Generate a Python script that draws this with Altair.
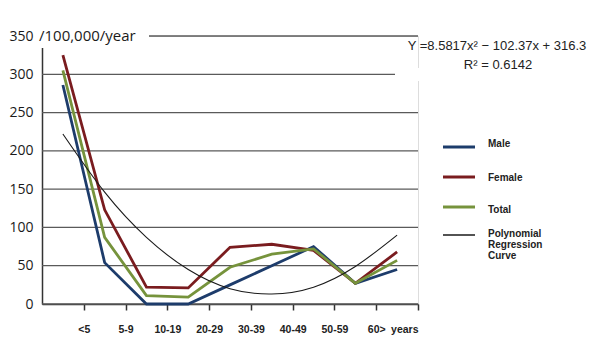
import altair as alt
import pandas as pd

# ---- data ----
categories = ["<5", "5-9", "10-19", "20-29", "30-39", "40-49", "50-59", "60>", "years"]
male = [286, 54, 0, 0, 25, 50, 75, 27, 45]
female = [325, 123, 22, 21, 74, 78, 70, 27, 68]
total = [305, 87, 11, 9, 48, 65, 72, 27, 57]
poly_curve = [222, 146, 87, 45, 20, 13, 22, 49, 90]
y_ticks = [0, 50, 100, 150, 200, 250, 300, 350]
series_names = ["Male", "Female", "Total"]
series_colors = ["#1d3c6b", "#7a1c1f", "#76933c"]
legend_labels = ["Male", "Female", "Total", "Polynomial\nRegression\nCurve"]
equation = "Y =8.5817x\u00b2 \u2212 102.37x + 316.3"
r_squared = "R\u00b2 = 0.6142"
unit_title = "/100,000/year"

# ---- build tables ----
rows = []
for name, vals in zip(series_names, [male, female, total]):
    for i, v in enumerate(vals):
        rows.append({"pos": i + 0.5, "series": name, "value": v})
df = pd.DataFrame(rows)
poly_df = pd.DataFrame({"pos": [i + 0.5 for i in range(len(poly_curve))], "value": poly_curve})
grid_df = pd.DataFrame({"value": y_ticks})

W, H = 376, 268
label_expr = "[" + ",".join("'" + c + "'" for c in categories) + "][datum.value - 1]"

xscale = alt.Scale(domain=[0, 9], nice=False, zero=False)
yscale = alt.Scale(domain=[0, 350], nice=False)

x_axis = alt.Axis(
    values=list(range(1, 10)), labelExpr=label_expr, title=None, grid=False,
    tickSize=6, tickColor="#333", tickWidth=1.5, domainColor="#333", domainWidth=1.5,
    labelFont="Liberation Sans", labelFontSize=10.5, labelFontWeight="bold",
    labelColor="#222", labelPadding=14, labelAngle=0, labelOverlap=False,
)
y_axis = alt.Axis(
    values=y_ticks, tickCount=8, title=None, ticks=False, grid=False,
    domainColor="#333", domainWidth=1.5,
    labelFont="Open Sans", labelFontSize=14, labelColor="#1a1a1a", labelPadding=9,
    labelOverlap=False, labelFlush=False,
)

# horizontal gridlines drawn as rules
grid = alt.Chart(grid_df).mark_rule(color="#5a5a5a", strokeWidth=1.3).encode(
    y=alt.Y("value:Q", scale=yscale, axis=y_axis),
    x=alt.value(0), x2=alt.value(W),
)

lines = alt.Chart(df).mark_line(strokeWidth=2.8).encode(
    x=alt.X("pos:Q", scale=xscale, axis=x_axis),
    y=alt.Y("value:Q", scale=yscale, axis=y_axis),
    color=alt.Color("series:N", scale=alt.Scale(domain=series_names, range=series_colors), legend=None),
    detail="series:N",
)

poly = alt.Chart(poly_df).mark_line(color="#1a1a1a", strokeWidth=1.1, interpolate="natural").encode(
    x=alt.X("pos:Q", scale=xscale, axis=x_axis),
    y=alt.Y("value:Q", scale=yscale, axis=y_axis),
)

layers = [grid, lines, poly]

# white box behind the unit title (covers top gridline / axis)
layers.append(alt.Chart(pd.DataFrame({"a": [0]})).mark_rect(color="white").encode(
    x=alt.value(-5), x2=alt.value(107), y=alt.value(-16), y2=alt.value(12)))
layers.append(alt.Chart(pd.DataFrame({"t": [unit_title]})).mark_text(
    font="Open Sans", fontSize=15, color="#1a1a1a", align="left", baseline="middle").encode(
    x=alt.value(-3), y=alt.value(0), text="t:N"))

# white box behind equation text
layers.append(alt.Chart(pd.DataFrame({"a": [0]})).mark_rect(color="white").encode(
    x=alt.value(353), x2=alt.value(380), y=alt.value(32), y2=alt.value(45)))
layers.append(alt.Chart(pd.DataFrame({"t": [equation]})).mark_text(
    font="Liberation Sans", fontSize=13, color="#222", align="center", baseline="middle").encode(
    x=alt.value(455), y=alt.value(10), text="t:N"))
layers.append(alt.Chart(pd.DataFrame({"t": [r_squared]})).mark_text(
    font="Liberation Sans", fontSize=13, color="#222", align="center", baseline="middle").encode(
    x=alt.value(456), y=alt.value(29), text="t:N"))

# custom legend
legend_colors = series_colors + ["#1a1a1a"]
legend_widths = [3, 3, 3, 1.5]
swatch_y = [111, 141, 171, 199]
text_y = [108, 142, 174, 198]
for lab, col, sw, sy, ty in zip(legend_labels, legend_colors, legend_widths, swatch_y, text_y):
    layers.append(alt.Chart(pd.DataFrame({"a": [0]})).mark_rule(color=col, strokeWidth=sw).encode(
        x=alt.value(401), x2=alt.value(433), y=alt.value(sy)))
    layers.append(alt.Chart(pd.DataFrame({"t": [lab]})).mark_text(
        font="Liberation Sans", fontSize=10, fontWeight="bold", color="#222",
        align="left", baseline="middle", lineBreak="\n", lineHeight=11).encode(
        x=alt.value(446), y=alt.value(ty), text="t:N"))

chart = alt.layer(*layers).properties(
    width=W, height=H,
    autosize=alt.AutoSizeParams(type="none"),
    padding={"left": 34, "top": 28, "right": 174, "bottom": 49},
).configure_view(stroke=None).configure(background="white")

chart.save("out.html", embed_options={"renderer": "svg", "actions": False})
